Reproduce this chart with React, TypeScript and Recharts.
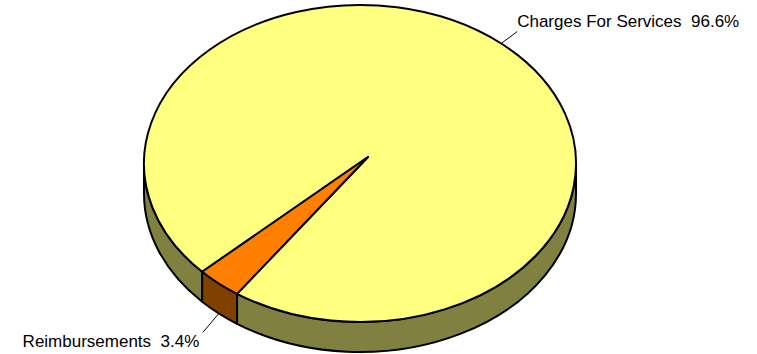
import { Pie, PieChart } from "recharts";

const categories = ["Charges For Services", "Reimbursements"];
const shares = [96.6, 3.4];
const topColors = ["#FFFF80", "#FF8000"];
const sideColors = ["#808040", "#804000"];

const data = categories.map((name, i) => ({ name, value: shares[i] }));

// fake 3D: the disc is squashed vertically and given a rim of DEPTH px
const TILT = 0.734;
const DEPTH = 30;
// perspective pushes the centre point up/right of the ellipse centre
const APEX_DX = 8;
const APEX_DY = -6.5;
const RAD = Math.PI / 180;

function rim(cx: number, cy: number, rx: number, deg: number, drop = 0) {
  return [cx + rx * Math.cos(deg * RAD), cy - rx * TILT * Math.sin(deg * RAD) + drop];
}

function Slice3D(props: any) {
  const { cx, cy, outerRadius: rx, startAngle, endAngle, index } = props;
  const ry = rx * TILT;
  const a0 = Math.min(startAngle, endAngle);
  const a1 = Math.max(startAngle, endAngle);

  // rim pieces: only the front half (180..360) is visible
  const sides: string[] = [];
  for (let k = -1; k <= 2; k++) {
    const lo = Math.max(a0, 180 + 360 * k);
    const hi = Math.min(a1, 360 + 360 * k);
    if (hi <= lo) continue;
    const [x0, y0] = rim(cx, cy, rx, lo);
    const [x1, y1] = rim(cx, cy, rx, hi);
    sides.push(
      `M${x0},${y0} A${rx},${ry} 0 0 0 ${x1},${y1} L${x1},${y1 + DEPTH} A${rx},${ry} 0 0 1 ${x0},${y0 + DEPTH} Z`
    );
  }

  const [sx, sy] = rim(cx, cy, rx, a0);
  const [ex, ey] = rim(cx, cy, rx, a1);
  const large = a1 - a0 > 180 ? 1 : 0;
  const top = `M${cx + APEX_DX},${cy + APEX_DY} L${sx},${sy} A${rx},${ry} 0 ${large} 0 ${ex},${ey} Z`;

  return (
    <g>
      {sides.map((d, i) => (
        <path key={i} d={d} fill={sideColors[index]} stroke="#000" strokeWidth={2} strokeLinejoin="round" />
      ))}
      <path d={top} fill={topColors[index]} stroke="#000" strokeWidth={2} strokeLinejoin="round" />
    </g>
  );
}

function renderLabel(props: any) {
  const { cx, cy, outerRadius, midAngle, percent, name } = props;
  const lower = Math.sin(midAngle * RAD) < 0;
  const dir = Math.cos(midAngle * RAD) >= 0 ? 1 : -1;
  const [x0, y0] = rim(cx, cy, outerRadius, midAngle, lower ? DEPTH : 0);
  const x1 = x0 + 16 * dir;
  const y1 = y0 + (lower ? 19 : -12);
  return (
    <g>
      <line x1={x0} y1={y0} x2={x1} y2={y1} stroke="#000" strokeWidth={1} />
      <text
        x={dir > 0 ? x1 : x1 - 3.5}
        y={lower ? y1 + 14.5 : y1 - 5}
        textAnchor={dir > 0 ? "start" : "end"}
        fontFamily="'Liberation Sans', Arial, sans-serif"
        fontSize={17}
        fill="#000"
        style={{ whiteSpace: "pre" }}
      >
        {`${name}  ${(percent * 100).toFixed(1)}%`}
      </text>
    </g>
  );
}

export default function App() {
  return (
    <div style={{ position: "absolute", left: 0, top: 0, background: "#fff" }}>
      <PieChart width={757} height={354} margin={{ top: 0, right: 0, bottom: 0, left: 0 }}>
        <Pie
          data={data}
          dataKey="value"
          nameKey="name"
          cx={360}
          cy={163.5}
          outerRadius={216}
          startAngle={235.3}
          endAngle={595.3}
          shape={Slice3D}
          label={renderLabel}
          labelLine={false}
          isAnimationActive={false}
        />
      </PieChart>
    </div>
  );
}
